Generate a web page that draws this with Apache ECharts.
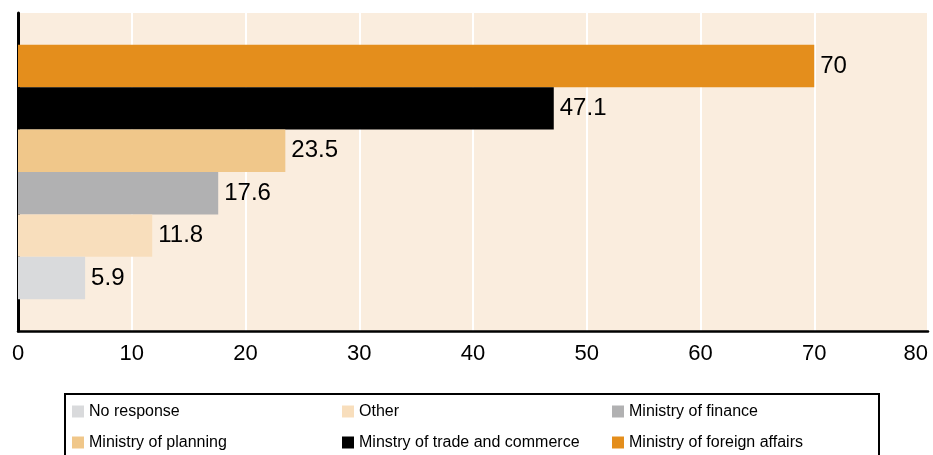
<!DOCTYPE html>
<html lang="en">

<head>
    <meta charset="UTF-8">
    <style>
    html,
    body {
        height: 100%;
        margin: 0;
        background: #fff;
    }
  </style>
</head>

<body>
<div id="chart" style="width:933px;height:455px;"></div>
<script src="https://cdn.jsdelivr.net/npm/echarts@6/dist/echarts.min.js"></script>
<script>
    // data (legend order, bottom bar first)
    var categories = [''];
    var seriesNames = ['No response', 'Other', 'Ministry of finance',
        'Ministry of planning', 'Minstry of trade and commerce', 'Ministry of foreign affairs'];
    var seriesValues = [5.9, 11.8, 17.6, 23.5, 47.1, 70];
    var seriesColors = ['#D9DADC', '#F8DEBC', '#B1B1B2', '#F0C78A', '#000000', '#E48E1C'];
    var xTicks = [0, 10, 20, 30, 40, 50, 60, 70, 80];

    var font = 'Liberation Sans, Arial, Helvetica, sans-serif';

    // echarts draws the first series of a horizontal group on top,
    // so push them in reverse to get the bottom-up order
    var series = [];
    for (var i = seriesNames.length - 1; i >= 0; i--) {
        series.push({
            name: seriesNames[i],
            type: 'bar',
            data: [seriesValues[i]],
            barGap: '0%',
            barCategoryGap: '20%',
            itemStyle: { color: seriesColors[i] },
            label: {
                show: true,
                position: 'right',
                distance: 6,
                color: '#000',
                fontSize: 24,
                fontFamily: font
            }
        });
    }

    var myChart = echarts.init(document.getElementById('chart'));
    myChart.setOption({
        animation: false,
        grid: {
            left: 18,
            right: 5,
            top: 13,
            bottom: 124,
            outerBoundsMode: 'none',
            containLabel: false,
            show: true,
            backgroundColor: '#FAEDDE',
            borderWidth: 0
        },
        legend: {
            data: seriesNames,
            left: 65,
            top: 394,
            width: 805,
            padding: [7, 7, 6, 7],
            itemGap: 10,
            itemWidth: 12,
            itemHeight: 12,
            icon: 'rect',
            borderColor: '#000',
            borderWidth: 2,
            textStyle: {
                fontSize: 16,
                fontFamily: font,
                color: '#000',
                width: 243,
                lineHeight: 21
            }
        },
        xAxis: {
            type: 'value',
            min: xTicks[0],
            max: xTicks[xTicks.length - 1],
            interval: 10,
            axisLine: { show: true, lineStyle: { color: '#000', width: 2.5 } },
            axisTick: { show: false },
            axisLabel: {
                color: '#000',
                fontSize: 22,
                fontFamily: font,
                margin: 12,
                alignMaxLabel: 'right'
            },
            splitLine: { show: true, lineStyle: { color: '#fff', width: 2 } }
        },
        yAxis: {
            type: 'category',
            data: categories,
            axisLine: { show: true, lineStyle: { color: '#000', width: 3 } },
            axisTick: { show: false },
            axisLabel: { show: false }
        },
        series: series
    });
</script>
</body>
</html>
